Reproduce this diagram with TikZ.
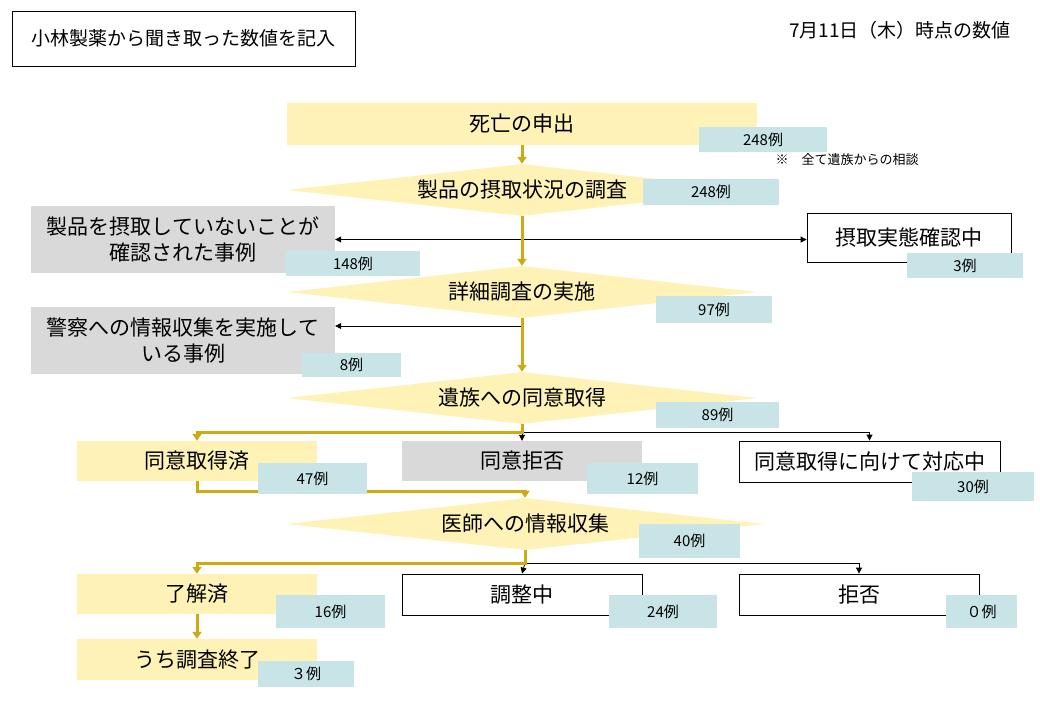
\documentclass[tikz,border=0pt]{standalone}
\usepackage{fontspec}
\setmainfont{Noto Sans CJK JP}
\usetikzlibrary{
    shapes.geometric,
    arrows.meta,
}
\definecolor{flowyellow}{RGB}{255,242,182}
\definecolor{countteal}{RGB}{200,228,230}
\definecolor{casegray}{RGB}{217,217,217}
\definecolor{flowgold}{RGB}{204,170,16}
\newcommand{\boxwidth}{240pt}
\newcommand{\boxheight}{40pt}
\newcommand{\widewidth}{470pt}
\newcommand{\casewidth}{304pt}
\newcommand{\labelsize}{\fontsize{21}{26}\selectfont}
\newcommand{\countsize}{\fontsize{15}{17}\selectfont}
\newcommand{\headsize}{\fontsize{19}{22}\selectfont}
\tikzstyle{goldarrow} = [-{Triangle[width=9pt,length=7pt]}, draw=flowgold, line width=3pt]
\tikzstyle{blackarrow} = [-{Triangle[width=6pt,length=6pt]}, draw=black, line width=0.8pt]
\tikzstyle{stepbox} = [
  shape=rectangle,
  fill=flowyellow,
  minimum width=\boxwidth,
  minimum height=\boxheight,
  inner sep=0pt,
  font=\labelsize,
]
\tikzstyle{openbox} = [
  draw,
  shape=rectangle,
  fill=white,
  line width=0.8pt,
  minimum width=\boxwidth,
  minimum height=41pt,
  inner sep=0pt,
  font=\labelsize,
]
\tikzstyle{casebox} = [
  shape=rectangle,
  fill=casegray,
  align=center,
  minimum height=\boxheight,
  inner sep=0pt,
  font=\labelsize,
]
\tikzstyle{decision} = [
  shape=diamond,
  aspect=9,
  fill=flowyellow,
  minimum width=\widewidth,
  minimum height=52pt,
  inner sep=0pt,
  font=\labelsize,
]
\tikzstyle{countbox} = [
  shape=rectangle,
  fill=countteal,
  inner sep=0pt,
  font=\countsize,
]

\begin{document}
\begin{tikzpicture}[x=1pt, y=-1pt]
    \useasboundingbox (0,0) rectangle (1040,720);
    % header
    \node[draw, line width=0.8pt, minimum width=343pt, minimum height=55pt,
      font=\headsize] (source) at (183.5,38.5) {小林製薬から聞き取った数値を記入};
    \node[font=\headsize] (date) at (900,30) {7月11日（木）時点の数値};
    % main flow
    \node[stepbox, minimum width=\widewidth, minimum height=42pt] (death) at (522,124) {死亡の申出};
    \node[decision] (intake) at (522,190) {製品の摂取状況の調査};
    \node[casebox, minimum width=\casewidth, minimum height=67pt] (nointake) at (183,239.5)
      {製品を摂取していないことが\\確認された事例};
    \node[openbox, minimum width=204pt, minimum height=49pt] (checking) at (909,237.5) {摂取実態確認中};
    \node[decision] (detail) at (522,292) {詳細調査の実施};
    \node[casebox, minimum width=\casewidth, minimum height=67pt] (police) at (183,340.5)
      {警察への情報収集を実施して\\いる事例};
    \node[decision] (consent) at (522,398) {遺族への同意取得};
    \node[stepbox] (agreed) at (197,461) {同意取得済};
    \node[casebox, minimum width=\boxwidth] (refused) at (522,461) {同意拒否};
    \node[openbox, minimum width=261pt] (pending) at (869.5,461.5) {同意取得に向けて対応中};
    \node[decision, minimum width=478pt] (doctor) at (525,524) {医師への情報収集};
    \node[stepbox] (ok) at (197,594) {了解済};
    \node[openbox] (adjusting) at (522,594.5) {調整中};
    \node[openbox] (refuse) at (859,594.5) {拒否};
    \node[stepbox, minimum height=41pt] (done) at (197,659.5) {うち調査終了};
    % split points
    \coordinate (split1) at (intake.south |- nointake.east);
    \coordinate (split2) at (522,326);
    \path (consent.south) ++(0,8) coordinate (split3);
    \path (doctor.south) ++(0,13) coordinate (split4);
    % black connectors
    \draw[blackarrow] (split1) -- (nointake.east);
    \draw[blackarrow] (split1) -- (split1 -| checking.west);
    \draw[blackarrow] (split2) -- (split2 -| police.east);
    \draw[blackarrow] (split3) -- (refused.north);
    \draw[blackarrow] (split3) -| (pending.north);
    \draw[blackarrow] (split4) -- (adjusting.north);
    \draw[blackarrow] (split4) -| (refuse.north);
    % gold connectors
    \draw[goldarrow] (death.south) -- (intake.north);
    \draw[goldarrow] (intake.south) -- (detail.north);
    \draw[goldarrow] (detail.south) -- (consent.north);
    \draw[goldarrow] (consent.south) -- (split3) -| (agreed.north);
    \draw[goldarrow] (agreed.south) -- ++(0,10) -| (doctor.north);
    \draw[goldarrow] (doctor.south) -- (split4) -| (ok.north);
    \draw[goldarrow] (ok.south) -- (done.north);
    % counts
    \node[countbox, minimum width=128pt, minimum height=25pt] (death-n) at (763,139.5) {248例};
    \node[font=\fontsize{13}{15}\selectfont, anchor=west] (remark) at (772,160) {※　全て遺族からの相談};
    \node[countbox, minimum width=136pt, minimum height=26pt] (intake-n) at (711,192) {248例};
    \node[countbox, minimum width=134pt, minimum height=25pt] (nointake-n) at (353,263.5) {148例};
    \node[countbox, minimum width=116pt, minimum height=25pt] (checking-n) at (965,265.5) {3例};
    \node[countbox, minimum width=116pt, minimum height=27pt] (detail-n) at (714,309.5) {97例};
    \node[countbox, minimum width=99pt, minimum height=24pt] (police-n) at (351.5,365) {8例};
    \node[countbox, minimum width=123pt, minimum height=26pt] (consent-n) at (717.5,415) {89例};
    \node[countbox, minimum width=109pt, minimum height=31pt] (agreed-n) at (312.5,478.5) {47例};
    \node[countbox, minimum width=111pt, minimum height=31pt] (refused-n) at (642.5,478.5) {12例};
    \node[countbox, minimum width=122pt, minimum height=29pt] (pending-n) at (973,486.5) {30例};
    \node[countbox, minimum width=101pt, minimum height=34pt] (doctor-n) at (689.5,541) {40例};
    \node[countbox, minimum width=109pt, minimum height=33pt] (ok-n) at (330.5,611.5) {16例};
    \node[countbox, minimum width=108pt, minimum height=33pt] (adjusting-n) at (663,611.5) {24例};
    \node[countbox, minimum width=71pt, minimum height=33pt] (refuse-n) at (981.5,611.5) {０例};
    \node[countbox, minimum width=96pt, minimum height=26pt] (done-n) at (306,674) {３例};
\end{tikzpicture}
\end{document}
